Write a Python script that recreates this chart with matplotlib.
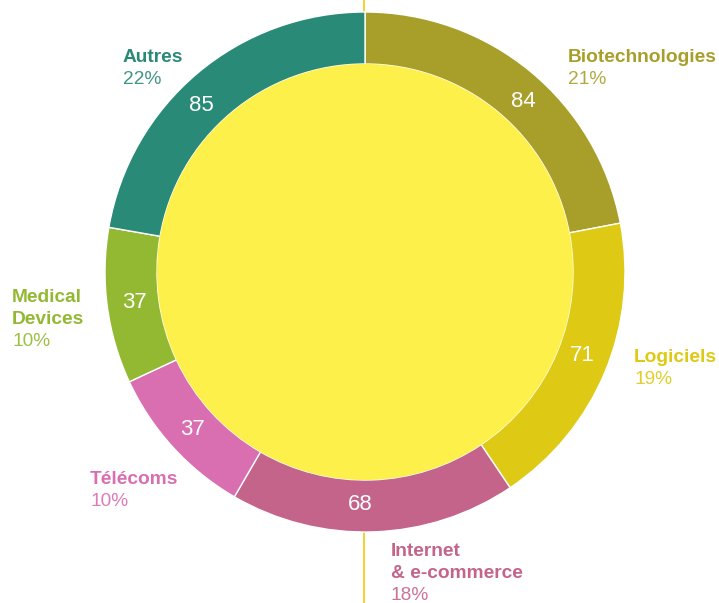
import matplotlib
matplotlib.use("Agg")
import matplotlib.pyplot as plt
from matplotlib.patches import Circle
import numpy as np

plt.rcParams['font.family'] = ['Liberation Sans', 'DejaVu Sans']

categories = ["Biotechnologies", "Logiciels", "Internet\n& e-commerce", "Télécoms", "Medical\nDevices", "Autres"]
values = [84, 71, 68, 37, 37, 85]
percents = ["21%", "19%", "18%", "10%", "10%", "22%"]
colors = ["#a89f2b", "#dec914", "#c4648a", "#d96eb1", "#93b933", "#2a8a78"]

W, H = 719, 603
fig = plt.figure(figsize=(W / 100, H / 100), dpi=100)
ax = fig.add_axes([0, 0, 1, 1])

cx, cy = 365, H - 272
R_out, R_in = 260, 208

ax.plot([364, 364], [0, H], color="#f2cf1f", lw=1.3, zorder=0)

wedges, _ = ax.pie(values, colors=colors, startangle=90, counterclock=False,
                   radius=R_out, center=(cx, cy), frame=True,
                   wedgeprops=dict(width=R_out - R_in, edgecolor='white', linewidth=1))
ax.set_xlim(0, W)
ax.set_ylim(0, H)
ax.set_aspect('equal')
ax.axis('off')
ax.add_patch(Circle((cx, cy), R_in, facecolor="#fdf04a", edgecolor='none', zorder=3))

# small angular nudges (degrees, counterclockwise) for value labels
nudges = [-3.3, 1.5, -3.0, 0, 0, 4.5]
r_lab = 233
for w, v, d in zip(wedges, values, nudges):
    ang = np.deg2rad((w.theta1 + w.theta2) / 2 + d)
    ax.text(cx + r_lab * np.cos(ang), cy + r_lab * np.sin(ang), str(v),
            color='white', fontsize=16, ha='center', va='center', zorder=4)

# outer labels: (x, y of first line) in pixel coords from top
label_pos = [(568, 58), (634, 357), (391, 551), (90, 479), (12, 297), (123, 57)]
line_h = 22
for (x, y), cat, pct, col in zip(label_pos, categories, percents, colors):
    lines = cat.split("\n")
    for i, ln in enumerate(lines):
        ax.text(x, H - (y + i * line_h), ln, color=col, fontsize=13.8,
                fontweight='bold', ha='left', va='center')
    ax.text(x, H - (y + len(lines) * line_h), pct, color=col, fontsize=13.8,
            ha='left', va='center', alpha=0.9)

fig.savefig("out.png", dpi=100)
